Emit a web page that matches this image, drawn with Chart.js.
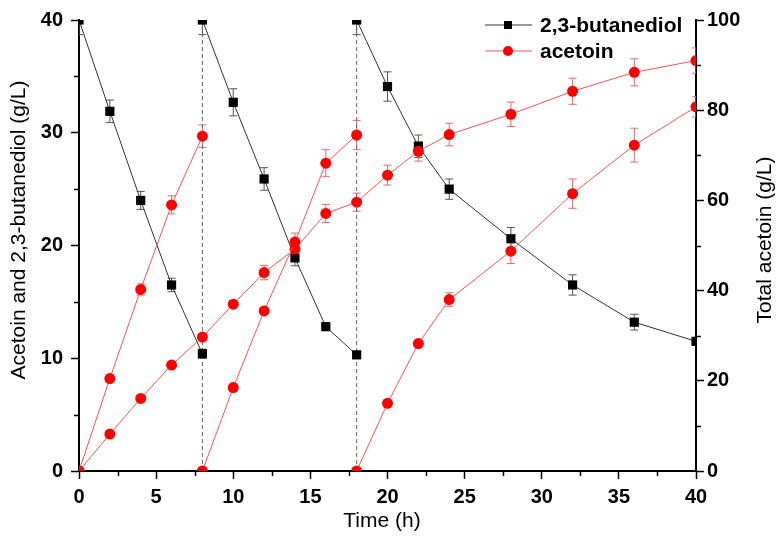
<!DOCTYPE html>
<html>
<head>
<meta charset="utf-8">
<script src="https://cdn.jsdelivr.net/npm/chart.js@4.4.0/dist/chart.umd.min.js"></script>
<style>
  html, body { margin: 0; padding: 0; background: #fff; }
</style>
</head>
<body>
<canvas id="chart" width="782" height="542"></canvas>
<script>
// fed-batch runs: time points of each feeding cycle
const time1 = [0, 2, 4, 6, 8];
const time2 = [8, 10, 12, 14, 16, 18];
const time3 = [18, 20, 22, 24, 28, 32, 36, 40];
const timeTotal = [0, 2, 4, 6, 8, 10, 12, 14, 16, 18, 20, 22, 24, 28, 32, 36, 40];
const feedTimes = [8, 18];

// 2,3-butanediol (g/L, left axis)
const bdo1 = [40, 31.9, 24.0, 16.5, 10.4];
const bdo2 = [40, 32.7, 25.9, 18.9, 12.8, 10.3];
const bdo3 = [40, 34.1, 28.8, 25.0, 20.6, 16.5, 13.2, 11.5];
const bdoErr1 = [1.3, 1.0, 0.8, 0.6, 0.4];
const bdoErr2 = [1.3, 1.2, 1.0, 0.7, 0.3, 0.3];
const bdoErr3 = [1.3, 1.3, 1.0, 0.9, 1.0, 0.9, 0.7, 0.3];

// acetoin per cycle (g/L, left axis)
const ace1 = [0, 8.2, 16.1, 23.6, 29.7];
const ace2 = [0, 7.4, 14.2, 20.3, 27.3, 29.8];
const ace3 = [0, 6.0, 11.3, 15.2, 19.5, 24.6, 28.9, 32.3];
const aceErr1 = [0, 0.3, 0.5, 0.8, 1.0];
const aceErr2 = [0, 0.3, 0.3, 0.8, 1.2, 1.3];
const aceErr3 = [0, 0.3, 0.3, 0.6, 1.1, 1.3, 1.5, 0.9];

// total acetoin (g/L, right axis)
const aceTotal = [0, 8.2, 16.1, 23.5, 29.7, 37.0, 44.0, 49.2, 57.1, 59.6, 65.6, 70.9, 74.6, 79.1, 84.2, 88.4, 91.0];
const aceTotalErr = [0, 0, 0, 0, 0, 0.8, 1.6, 1.8, 2.0, 2.0, 2.2, 2.2, 2.5, 2.7, 2.9, 3.0, 2.8];

const legendLabels = ['2,3-butanediol', 'acetoin'];
const xTitle = 'Time (h)';
const yTitle = 'Acetoin and 2,3-butanediol (g/L)';
const y2Title = 'Total acetoin (g/L)';

const FONT = '"Liberation Sans", Arial, Helvetica, sans-serif';
Chart.defaults.font.family = FONT;
Chart.defaults.color = '#000';

function toPoints(times, values) {
    return times.map((t, i) => ({ x: t, y: values[i] }));
}

function bdoSet(times, values, errors) {
    return {
        data: toPoints(times, values),
        errors: errors,
        errColor: '#555',
        yAxisID: 'y',
        borderColor: '#333',
        borderWidth: 1,
        pointStyle: 'rect',
        pointRadius: 6.5,
        pointBorderWidth: 0,
        pointBackgroundColor: '#000',
        clip: 0,
        order: 1
    };
}

function aceSet(times, values, errors, axis) {
    return {
        data: toPoints(times, values),
        errors: errors,
        errColor: '#e56b6b',
        yAxisID: axis,
        borderColor: '#f25555',
        borderWidth: 1,
        pointStyle: 'circle',
        pointRadius: 5.5,
        pointBorderWidth: 0,
        pointBackgroundColor: '#ff0000',
        clip: 0,
        order: 0
    };
}

const feedLines = feedTimes.map(t => ({
    data: [{ x: t, y: 0 }, { x: t, y: 40 }],
    yAxisID: 'y',
    borderColor: '#666',
    borderWidth: 1,
    borderDash: [4, 3],
    pointRadius: 0,
    order: 2
}));

// error bars, drawn under the markers
const errorBars = {
    id: 'errorBars',
    beforeDatasetsDraw(chart) {
        const { ctx, chartArea } = chart;
        ctx.save();
        ctx.beginPath();
        ctx.rect(chartArea.left, chartArea.top, chartArea.right - chartArea.left, chartArea.bottom - chartArea.top);
        ctx.clip();
        chart.data.datasets.forEach((ds, i) => {
            if (!ds.errors) return;
            const meta = chart.getDatasetMeta(i);
            const yScale = chart.scales[ds.yAxisID];
            ctx.strokeStyle = ds.errColor;
            ctx.lineWidth = 1;
            meta.data.forEach((pt, j) => {
                const e = ds.errors[j];
                if (!e) return;
                const v = ds.data[j].y;
                const top = yScale.getPixelForValue(v + e);
                const bot = yScale.getPixelForValue(v - e);
                ctx.beginPath();
                ctx.moveTo(pt.x, top);
                ctx.lineTo(pt.x, bot);
                ctx.moveTo(pt.x - 4, top);
                ctx.lineTo(pt.x + 4, top);
                ctx.moveTo(pt.x - 4, bot);
                ctx.lineTo(pt.x + 4, bot);
                ctx.stroke();
            });
        });
        ctx.restore();
    }
};

// minor ticks halfway between the labelled ones
const minorTicks = {
    id: 'minorTicks',
    afterDraw(chart) {
        const { ctx, chartArea } = chart;
        ctx.save();
        ctx.strokeStyle = '#000';
        ctx.lineWidth = 1.5;
        ['x', 'y', 'y2'].forEach(id => {
            const scale = chart.scales[id];
            const ticks = scale.ticks;
            for (let k = 0; k < ticks.length - 1; k++) {
                const p = scale.getPixelForValue((ticks[k].value + ticks[k + 1].value) / 2);
                ctx.beginPath();
                if (id === 'x') {
                    ctx.moveTo(Math.round(p) + 0.5, chartArea.bottom);
                    ctx.lineTo(Math.round(p) + 0.5, chartArea.bottom + 5);
                } else if (id === 'y') {
                    ctx.moveTo(chartArea.left, Math.round(p) + 0.5);
                    ctx.lineTo(chartArea.left - 5, Math.round(p) + 0.5);
                } else {
                    ctx.moveTo(chartArea.right, Math.round(p) + 0.5);
                    ctx.lineTo(chartArea.right + 5, Math.round(p) + 0.5);
                }
                ctx.stroke();
            }
        });
        ctx.restore();
    }
};

// legend in the top right corner of the plot, one entry per row
const legendBox = {
    id: 'legendBox',
    afterDraw(chart) {
        const { ctx, chartArea } = chart;
        const items = [
            { text: legendLabels[0], line: '#333', fill: '#000', shape: 'rect' },
            { text: legendLabels[1], line: '#f25555', fill: '#ff0000', shape: 'circle' }
        ];
        ctx.save();
        ctx.font = 'bold 21px ' + FONT;
        ctx.textBaseline = 'middle';
        ctx.textAlign = 'left';
        items.forEach((item, i) => {
            const y = chartArea.top + 5 + i * 26;
            const x0 = chartArea.right - 211;
            ctx.strokeStyle = item.line;
            ctx.lineWidth = 1;
            ctx.beginPath();
            ctx.moveTo(x0, y);
            ctx.lineTo(x0 + 47, y);
            ctx.stroke();
            ctx.fillStyle = item.fill;
            if (item.shape === 'rect') {
                ctx.fillRect(x0 + 23 - 4, y - 4, 8, 8);
            } else {
                ctx.beginPath();
                ctx.arc(x0 + 23, y, 5, 0, Math.PI * 2);
                ctx.fill();
            }
            ctx.fillStyle = '#000';
            ctx.fillText(item.text, x0 + 55, y + 1);
        });
        ctx.restore();
    }
};

// axis titles; both vertical ones read bottom to top
const axisTitles = {
    id: 'axisTitles',
    afterDraw(chart) {
        const { ctx } = chart;
        ctx.save();
        ctx.font = '21px ' + FONT;
        ctx.fillStyle = '#000';
        ctx.textAlign = 'center';
        ctx.textBaseline = 'middle';
        ctx.fillText(xTitle, 382, 521);
        [[yTitle, 19, 230], [y2Title, 765, 240]].forEach(([text, x, y]) => {
            ctx.save();
            ctx.translate(x, y);
            ctx.rotate(-Math.PI / 2);
            ctx.fillText(text, 0, 0);
            ctx.restore();
        });
        ctx.restore();
    }
};

const tickFont = { size: 20, weight: 'bold' };

const ctx = document.getElementById('chart').getContext('2d');
new Chart(ctx, {
    type: 'line',
    data: {
        datasets: [
            ...feedLines,
            bdoSet(time1, bdo1, bdoErr1),
            bdoSet(time2, bdo2, bdoErr2),
            bdoSet(time3, bdo3, bdoErr3),
            aceSet(time1, ace1, aceErr1, 'y'),
            aceSet(time2, ace2, aceErr2, 'y'),
            aceSet(time3, ace3, aceErr3, 'y'),
            aceSet(timeTotal, aceTotal, aceTotalErr, 'y2')
        ]
    },
    options: {
        responsive: false,
        animation: false,
        events: [],
        layout: { padding: { top: 14, left: 0, right: 0, bottom: 0 } },
        elements: { line: { tension: 0 } },
        plugins: {
            legend: { display: false },
            tooltip: { enabled: false }
        },
        scales: {
            x: {
                type: 'linear',
                min: 0,
                max: 40,
                ticks: { stepSize: 5, font: tickFont, padding: 6, color: '#000' },
                grid: { drawOnChartArea: false, tickLength: 8, tickWidth: 1.5, tickColor: '#000' },
                border: { color: '#000', width: 2 },
                afterFit(scale) { scale.height = 71; }
            },
            y: {
                position: 'left',
                min: 0,
                max: 40,
                ticks: { stepSize: 10, font: tickFont, padding: 8, color: '#000' },
                grid: { drawOnChartArea: false, tickLength: 8, tickWidth: 1.5, tickColor: '#000' },
                border: { color: '#000', width: 2 },
                afterFit(scale) { scale.width = 79; }
            },
            y2: {
                position: 'right',
                min: 0,
                max: 100,
                ticks: { stepSize: 20, font: tickFont, padding: 3, color: '#000' },
                grid: { drawOnChartArea: false, tickLength: 8, tickWidth: 1.5, tickColor: '#000' },
                border: { color: '#000', width: 2 },
                afterFit(scale) { scale.width = 86; }
            }
        }
    },
    plugins: [errorBars, minorTicks, legendBox, axisTitles]
});
</script>
</body>
</html>
